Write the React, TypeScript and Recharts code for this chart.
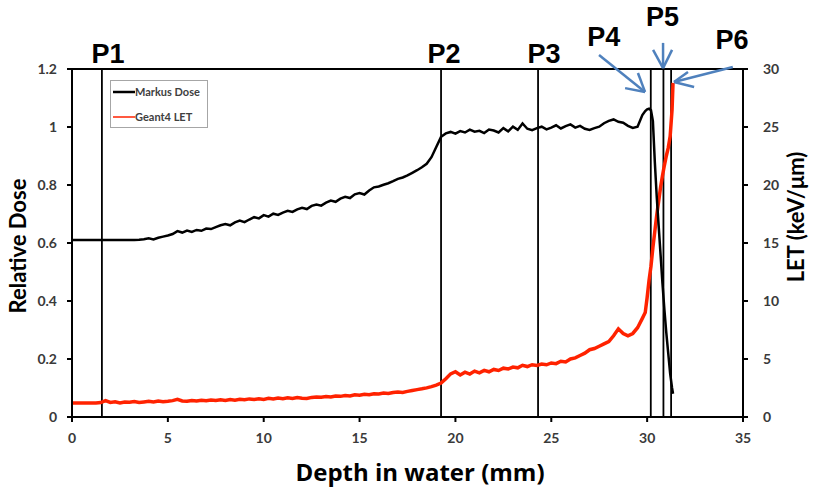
import React from 'react';
import { ComposedChart, Line, XAxis, YAxis, ReferenceLine, Customized } from 'recharts';

// ── Data ──────────────────────────────────────────────────────
const depthMm = [
  0, 0.25, 0.5, 0.75, 1, 1.25, 1.5, 1.75,
  2, 2.25, 2.5, 2.75, 3, 3.25, 3.5, 3.75,
  4, 4.25, 4.5, 4.75, 5, 5.25, 5.5, 5.75,
  6, 6.25, 6.5, 6.75, 7, 7.25, 7.5, 7.75,
  8, 8.25, 8.5, 8.75, 9, 9.25, 9.5, 9.75,
  10, 10.25, 10.5, 10.75, 11, 11.25, 11.5, 11.75,
  12, 12.25, 12.5, 12.75, 13, 13.25, 13.5, 13.75,
  14, 14.25, 14.5, 14.75, 15, 15.25, 15.5, 15.75,
  16, 16.25, 16.5, 16.75, 17, 17.25, 17.5, 17.75,
  18, 18.25, 18.5, 18.75, 19, 19.25, 19.5, 19.75,
  20, 20.25, 20.5, 20.75, 21, 21.25, 21.5, 21.75,
  22, 22.25, 22.5, 22.75, 23, 23.25, 23.5, 23.75,
  24, 24.25, 24.5, 24.75, 25, 25.25, 25.5, 25.75,
  26, 26.25, 26.5, 26.75, 27, 27.25, 27.5, 27.75,
  28, 28.25, 28.5, 28.75, 29, 29.25, 29.5, 29.75,
  29.9, 30, 30.1, 30.2, 30.3, 30.4, 30.5, 30.6, 30.7, 30.8, 30.9, 31, 31.1, 31.2, 31.3, 31.35,
];

const markusDose = [
  0.61, 0.61, 0.61, 0.61, 0.61, 0.61, 0.61, 0.61,
  0.61, 0.61, 0.61, 0.61, 0.61, 0.61, 0.611, 0.613,
  0.616, 0.612, 0.618, 0.622, 0.626, 0.631, 0.641, 0.636,
  0.643, 0.638, 0.645, 0.642, 0.65, 0.648, 0.655, 0.661,
  0.665, 0.661, 0.671, 0.677, 0.672, 0.681, 0.689, 0.685,
  0.696, 0.691, 0.701, 0.697, 0.705, 0.711, 0.707, 0.716,
  0.721, 0.717, 0.728, 0.733, 0.729, 0.739, 0.746, 0.742,
  0.753, 0.759, 0.755, 0.768, 0.772, 0.767, 0.781, 0.792,
  0.795, 0.801, 0.806, 0.813, 0.821, 0.826, 0.833, 0.842,
  0.851, 0.861, 0.873, 0.896, 0.931, 0.966, 0.978, 0.983,
  0.977, 0.986, 0.981, 0.991, 0.984, 0.987, 0.979, 0.991,
  0.988, 0.981, 0.996, 0.985, 1.001, 0.99, 1.012, 0.994,
  0.989, 0.996, 1.001, 0.992, 0.998, 1.006, 0.995, 1.003,
  1.009, 0.998, 1.004, 0.994, 0.99, 0.996, 1.001, 1.013,
  1.021, 1.026, 1.018, 1.015, 1.004, 0.997, 1.001, 1.041,
  1.055, 1.061, 1.063, 1.058, 1.02, 0.88, 0.76, 0.66, 0.56, 0.46, 0.37, 0.29, 0.22, 0.15, 0.1, 0.08,
];

const geant4Let = [
  1.2, 1.2, 1.2, 1.2, 1.2, 1.2, 1.25, 1.42,
  1.26, 1.31, 1.22, 1.3, 1.28, 1.34, 1.25, 1.3,
  1.35, 1.3, 1.38, 1.32, 1.36, 1.41, 1.52, 1.38,
  1.35, 1.43, 1.38, 1.44, 1.4, 1.46, 1.42, 1.48,
  1.43, 1.51, 1.45, 1.52, 1.48, 1.56, 1.5, 1.57,
  1.52, 1.61, 1.55, 1.63, 1.58, 1.65, 1.6, 1.67,
  1.62, 1.6, 1.69, 1.73, 1.7, 1.76, 1.72, 1.81,
  1.78, 1.86, 1.82, 1.91, 1.88, 1.96, 1.92, 2.01,
  1.98, 2.06, 2.02, 2.11, 2.15, 2.12, 2.21, 2.29,
  2.36, 2.43, 2.51, 2.62, 2.74, 2.92, 3.3, 3.72,
  3.9, 3.62, 3.86, 3.7, 3.96, 3.81, 4.02, 3.9,
  4.1, 4.01, 4.21, 4.14, 4.3, 4.24, 4.46, 4.35,
  4.51, 4.44, 4.56, 4.5, 4.66, 4.6, 4.81, 4.75,
  5.0, 5.1, 5.3, 5.5, 5.8, 5.9, 6.1, 6.3,
  6.5, 7.0, 7.6, 7.2, 7.0, 7.2, 7.7, 8.5,
  9.0, 10.3, 11.8, 13.0, 14.6, 16.0, 17.4, 18.6, 19.8, 20.8, 21.7, 22.5, 23.2, 24.2, 26.5, 28.8,
];

const depthTicks = [0, 5, 10, 15, 20, 25, 30, 35];
const doseTicks = [0, 0.2, 0.4, 0.6, 0.8, 1, 1.2];
const letTicks = [0, 5, 10, 15, 20, 25, 30];

const seriesNames = ['Markus Dose', 'Geant4 LET'];
const markerNames = ['P1', 'P2', 'P3', 'P4', 'P5', 'P6'];
const markerDepth = [1.56, 19.25, 24.31, 30.19, 30.85, 31.25];

// arrows to P4, P5, P6 — (depth mm, relative dose): tail, tip, two head ends
const arrowTail = [{ x: 27.49, y: 1.248 }, { x: 30.83, y: 1.29 }, { x: 34.47, y: 1.207 }];
const arrowTip = [{ x: 29.89, y: 1.121 }, { x: 30.83, y: 1.203 }, { x: 31.4, y: 1.155 }];
const arrowHeadA = [{ x: 28.85, y: 1.134 }, { x: 30.31, y: 1.266 }, { x: 32.13, y: 1.19 }];
const arrowHeadB = [{ x: 29.52, y: 1.186 }, { x: 31.3, y: 1.266 }, { x: 32.45, y: 1.138 }];

const data = depthMm.map((depth, i) => ({ depth, dose: markusDose[i], let: geant4Let[i] }));

// ── Styles ────────────────────────────────────────────────────
const W = 813;
const H = 489;
const CALIBRI = 'Lato, "Open Sans", sans-serif';
const ARIAL = '"Liberation Sans", Arial, sans-serif';
const TICK = { fontSize: 14, fontWeight: 700, fill: '#3a3a3a', fontFamily: CALIBRI };
const AXIS = { stroke: '#000', strokeWidth: 2 };
const DOSE_COLOR = '#000000';
const LET_COLOR = '#ff2200';
const ARROW_COLOR = '#4f81bd';
const labelOffset = [
  { dx: 6, dy: -6 }, { dx: 3, dy: -6 }, { dx: 6, dy: -6 },
  { dx: -47, dy: -23 }, { dx: -1, dy: -43 }, { dx: 61, dy: -20 },
];

function PLabel(props: any) {
  const { viewBox, text, dx, dy } = props;
  if (!viewBox) return null;
  return (
    <text x={viewBox.x + dx} y={viewBox.y + dy} textAnchor="middle"
      fontFamily={ARIAL} fontWeight={700} fontSize={27} fill="#000">
      {text}
    </text>
  );
}

function Overlay() {
  return (
    <g>
      <text x={17} y={246} transform="rotate(-90 17 246)" textAnchor="middle" dominantBaseline="central"
        fontFamily={CALIBRI} fontWeight={700} fontSize={22} fill="#000">Relative Dose</text>
      <text x={795} y={217} transform="rotate(-90 795 217)" textAnchor="middle" dominantBaseline="central"
        fontFamily={CALIBRI} fontWeight={700} fontSize={22} fill="#000">LET (keV/μm)</text>
      <text x={420} y={481} textAnchor="middle"
        fontFamily='"Open Sans", Lato, sans-serif' fontWeight={700} fontSize={24} fill="#000">Depth in water (mm)</text>
      {/* legend */}
      <rect x={110.5} y={80.5} width={97} height={47} fill="#fff" stroke="#a6a6a6" strokeWidth={1} />
      <line x1={113} y1={92} x2={135} y2={92} stroke={DOSE_COLOR} strokeWidth={2.5} />
      <text x={135} y={96} fontFamily={CALIBRI} fontWeight={700} fontSize={11} fill="#404040">{seriesNames[0]}</text>
      <line x1={113} y1={117} x2={135} y2={117} stroke={LET_COLOR} strokeWidth={1.5} />
      <text x={135} y={121} fontFamily={CALIBRI} fontWeight={700} fontSize={11} fill="#404040">{seriesNames[1]}</text>
    </g>
  );
}

export default function App() {
  return (
    <div style={{ position: 'absolute', left: 0, top: 0, width: W, height: H, background: '#fff' }}>
      <ComposedChart width={W} height={H} data={data} margin={{ top: 69, right: 0, bottom: 42, left: 0 }}>
        <XAxis type="number" dataKey="depth" domain={[0, 35]} ticks={depthTicks} height={30}
          tick={TICK} tickSize={5} tickMargin={11} axisLine={AXIS} tickLine={AXIS} allowDataOverflow />
        <YAxis yAxisId="left" domain={[0, 1.2]} ticks={doseTicks} width={72}
          tick={TICK} tickSize={5} tickMargin={10} axisLine={AXIS} tickLine={AXIS} allowDataOverflow />
        <YAxis yAxisId="right" orientation="right" domain={[0, 30]} ticks={letTicks} width={70}
          tick={TICK} tickSize={5} tickMargin={15} axisLine={AXIS} tickLine={AXIS} allowDataOverflow />

        <ReferenceLine yAxisId="left" y={1.2} stroke="#000" strokeWidth={2} />
        {markerDepth.map((d, i) => (
          <ReferenceLine key={markerNames[i]} yAxisId="left" x={d} stroke="#000" strokeWidth={1.8}
            label={<PLabel text={markerNames[i]} dx={labelOffset[i].dx} dy={labelOffset[i].dy} />} />
        ))}

        <Line yAxisId="right" type="linear" dataKey="let" name={seriesNames[1]} stroke={LET_COLOR}
          strokeWidth={3.5} dot={false} isAnimationActive={false} />
        <Line yAxisId="left" type="linear" dataKey="dose" name={seriesNames[0]} stroke={DOSE_COLOR}
          strokeWidth={2.5} dot={false} isAnimationActive={false} />

        {arrowTip.map((tip, i) => (
          <React.Fragment key={`arrow-${i}`}>
            <ReferenceLine yAxisId="left" segment={[arrowTail[i], tip]} stroke={ARROW_COLOR} strokeWidth={2.5} ifOverflow="visible" />
            <ReferenceLine yAxisId="left" segment={[arrowHeadA[i], tip]} stroke={ARROW_COLOR} strokeWidth={2.5} ifOverflow="visible" />
            <ReferenceLine yAxisId="left" segment={[arrowHeadB[i], tip]} stroke={ARROW_COLOR} strokeWidth={2.5} ifOverflow="visible" />
          </React.Fragment>
        ))}

        <Customized component={Overlay} />
      </ComposedChart>
    </div>
  );
}
